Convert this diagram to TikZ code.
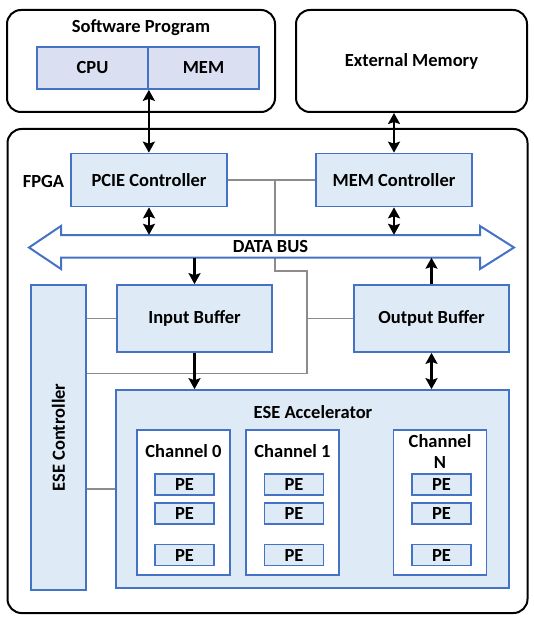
\documentclass[tikz,border=0pt]{standalone}
\usepackage{fontspec}
\setmainfont{Carlito}
\usetikzlibrary{arrows.meta}
\definecolor{boxblue}{HTML}{4472C4}
\definecolor{boxfill}{HTML}{DEEBF7}
\definecolor{cpufill}{HTML}{DAE0F2}
\definecolor{wiregray}{HTML}{8C8C8C}
\begin{document}
\begin{tikzpicture}[x=1pt,y=-1pt,font=\fontsize{18.5}{21}\selectfont\bfseries,
    outer box/.style={draw,line width=2pt,rounded corners=14pt,inner sep=0pt},
    blue box/.style={draw=boxblue,fill=boxfill,line width=1.7pt,inner sep=0pt,align=center},
    chan box/.style={draw=boxblue,fill=white,line width=1.7pt,inner sep=0pt,minimum width=93pt,minimum height=145pt},
    pe box/.style={blue box,minimum width=59pt,minimum height=21pt},
    wire/.style={wiregray,line width=1.8pt},
    tip/.tip={Stealth[length=11pt,width=12pt,inset=2pt]},
    data arrow/.style={line width=2.2pt,-tip},
    both arrow/.style={line width=2.2pt,tip-tip}]
        \useasboundingbox (0,0) rectangle (534,620);
        % host side
        \node[outer box,minimum width=268pt,minimum height=102pt] (sw) at (141,61) {};
        \node (swtitle) at (141,28) {Software Program};
        \node[blue box,fill=cpufill,minimum width=111pt,minimum height=42pt] (cpu) at (92.5,68) {CPU};
        \node[blue box,fill=cpufill,minimum width=111pt,minimum height=42pt] (mem) at (203.5,68) {MEM};
        \node[outer box,minimum width=231pt,minimum height=102pt] (ext) at (411.5,61) {External Memory};
        % fpga
        \node[outer box,minimum width=520pt,minimum height=484pt] (fpga) at (267.5,371) {};
        \node (fpgatitle) at (43.5,181) {FPGA};
        \node[blue box,minimum width=156pt,minimum height=53pt] (pcie) at (149,180) {PCIE Controller};
        \node[blue box,minimum width=156pt,minimum height=53pt] (memc) at (394,180) {MEM Controller};
        \node[blue box,minimum width=155pt,minimum height=67pt] (inbuf) at (194.5,318.5) {Input Buffer};
        \node[blue box,minimum width=155pt,minimum height=67pt] (outbuf) at (431.5,318.5) {Output Buffer};
        \node[blue box,minimum width=55pt,minimum height=305pt] (esec) at (58.5,437.5) {};
        \node[rotate=90] (esectitle) at (esec.center) {ESE Controller};
        \node[blue box,minimum width=393pt,minimum height=198pt] (accel) at (312.5,489) {};
        \node (acceltitle) at (313,412) {ESE Accelerator};
        \foreach \ch/\x in {0/183.5,1/292.5,N/440}
          \node[chan box] (ch\ch) at (\x,502.5) {};
        \node (ch0title) at (183.5,451) {Channel 0};
        \node (ch1title) at (292.5,451) {Channel 1};
        \node[align=center] (chNtitle) at (440,451.5) {Channel\\N};
        \foreach \ch/\x in {0/184.5,1/294,N/441.5}
          \foreach \r/\y in {1/484.5,2/513.5,3/555}
            \node[pe box] (pe\ch\r) at (\x,\y) {PE};
        % control wires
        \coordinate (ja) at (275,180);
        \coordinate (jb) at (275,271);
        \coordinate (jc) at (307,271);
        \coordinate (jd) at (307,373.5);
        \draw[wire] (pcie.east) -- (memc.west);
        \draw[wire] (ja) -- (jb) -- (jc) -- (jd) -- (jd -| esec.east);
        \draw[wire] (jd |- outbuf.west) -- (outbuf.west);
        \draw[wire] (esec.east |- inbuf.west) -- (inbuf.west);
        \draw[wire] (accel.west -| esec.east) -- (accel.west);
        % data bus
        \draw[boxblue,fill=white,line width=2pt,line join=miter]
          (29,247.5) -- (61,226) -- (61,235) -- (480,235) -- (480,226) -- (514,247.5)
          -- (480,269) -- (480,257.5) -- (61,257.5) -- (61,269) -- cycle;
        \node[minimum width=419pt,minimum height=22.5pt,inner sep=0pt] (bus) at (270.5,246.25) {DATA BUS};
        % data arrows
        \draw[both arrow] (pcie.north -| cpu.south east) -- (cpu.south east);
        \draw[both arrow] (memc.north) -- (memc.north |- ext.south);
        \draw[both arrow] (pcie.south) -- (pcie.south |- bus.north);
        \draw[both arrow] (memc.south) -- (memc.south |- bus.north);
        \draw[data arrow] (inbuf.north |- bus.south) -- (inbuf.north);
        \draw[data arrow] (outbuf.north) -- (outbuf.north |- bus.south);
        \draw[data arrow] (inbuf.south) -- (inbuf.south |- accel.north);
        \draw[both arrow] (outbuf.south) -- (outbuf.south |- accel.north);
\end{tikzpicture}
\end{document}
